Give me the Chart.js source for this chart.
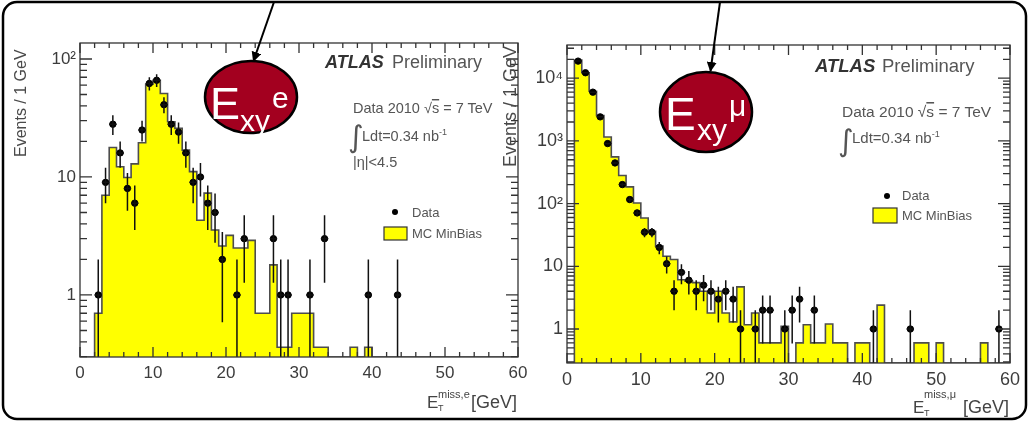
<!DOCTYPE html>
<html>
<head>
<meta charset="utf-8">
<script src="https://cdn.jsdelivr.net/npm/chart.js@4.4.0/dist/chart.umd.min.js"></script>
<style>
  html, body { margin: 0; padding: 0; background: #fff; }
  #stage { position: relative; width: 1029px; height: 422px; overflow: hidden; }
  #stage canvas { position: absolute; left: 0; top: 0; }
  #stage svg { position: absolute; left: 0; top: 0; }
</style>
</head>
<body>
<div id="stage">
  <canvas id="electronChart" width="1029" height="422"></canvas>
  <canvas id="muonChart" width="1029" height="422"></canvas>
  <svg width="1029" height="422" viewBox="0 0 1029 422" font-family="Liberation Sans, Arial, sans-serif">
    <defs>
      <marker id="head" markerWidth="10" markerHeight="10" refX="9" refY="5" orient="auto" markerUnits="userSpaceOnUse">
        <path d="M0,0 L10,5 L0,10 z" fill="#000"/>
      </marker>
    </defs>
    <!-- slide frame -->
    <rect x="3" y="2" width="1023" height="417" rx="14" ry="14" fill="none" stroke="#000" stroke-width="2.5"/>

    <!-- y axis titles -->
    <text transform="translate(26,157) rotate(-90)" font-size="16" fill="#4a4a4a">Events / 1 GeV</text>
    <text transform="translate(516,167) rotate(-90)" font-size="18" fill="#4a4a4a">Events / 1 GeV</text>

    <!-- electron panel labels -->
    <text x="325" y="68" font-size="18" font-weight="bold" font-style="italic" fill="#333">ATLAS</text>
    <text x="392" y="68" font-size="18" fill="#555">Preliminary</text>
    <text x="353" y="113" font-size="14.5" fill="#555">Data 2010  √<tspan text-decoration="overline">s</tspan> = 7 TeV</text>
    <text x="348" y="147" font-size="30" fill="#555" font-family="DejaVu Sans">∫</text>
    <text x="362" y="141" font-size="14.5" fill="#555">Ldt=0.34 nb<tspan font-size="9" dy="-6">-1</tspan></text>
    <text x="353" y="167" font-size="14.5" fill="#555">|η|&lt;4.5</text>
    <circle cx="395" cy="212" r="3" fill="#000"/>
    <text x="412" y="217" font-size="13" fill="#555">Data</text>
    <rect x="384" y="227" width="23" height="13" fill="#ffff00" stroke="#333" stroke-width="1.2"/>
    <text x="412" y="238" font-size="13" fill="#555">MC MinBias</text>
    <text x="427" y="408" font-size="17" fill="#444">E</text>
    <text x="438" y="398" font-size="11" fill="#444">miss,e</text>
    <text x="438" y="411" font-size="9" fill="#444">T</text>
    <text x="471" y="408" font-size="18" fill="#444">[GeV]</text>

    <!-- muon panel labels -->
    <text x="815" y="72" font-size="18.5" font-weight="bold" font-style="italic" fill="#333">ATLAS</text>
    <text x="882" y="72" font-size="18.5" fill="#555">Preliminary</text>
    <text x="842" y="117" font-size="15.5" fill="#555">Data 2010  √<tspan text-decoration="overline">s</tspan> = 7 TeV</text>
    <text x="838" y="151" font-size="30" fill="#555" font-family="DejaVu Sans">∫</text>
    <text x="852" y="143" font-size="15" fill="#555">Ldt=0.34 nb<tspan font-size="9" dy="-6">-1</tspan></text>
    <circle cx="887" cy="196" r="3" fill="#000"/>
    <text x="902" y="200" font-size="13" fill="#555">Data</text>
    <rect x="873" y="208" width="24" height="15" fill="#ffff00" stroke="#333" stroke-width="1.2"/>
    <text x="902" y="220" font-size="13" fill="#555">MC MinBias</text>
    <text x="913" y="413" font-size="17" fill="#444">E</text>
    <text x="924" y="398" font-size="11" fill="#444">miss,μ</text>
    <text x="924" y="416" font-size="9" fill="#444">T</text>
    <text x="963" y="413" font-size="18" fill="#444">[GeV]</text>

    <!-- callouts -->
    <line x1="274" y1="2" x2="253.5" y2="61" stroke="#000" stroke-width="2" marker-end="url(#head)"/>
    <line x1="720" y1="2" x2="710.5" y2="71" stroke="#000" stroke-width="2" marker-end="url(#head)"/>
    <ellipse cx="251" cy="97" rx="46" ry="36" fill="#a3001f" stroke="#000" stroke-width="2.5"/>
    <ellipse cx="706" cy="112" rx="46" ry="40" fill="#a3001f" stroke="#000" stroke-width="2.5"/>
    <text x="210" y="119" font-size="45" fill="#fff">E</text>
    <text x="240" y="131" font-size="30" fill="#fff">xy</text>
    <text x="272" y="108" font-size="30" fill="#fff">e</text>
    <text x="665" y="130" font-size="46" fill="#fff">E</text>
    <text x="697" y="140" font-size="30" fill="#fff">xy</text>
    <text x="729" y="116" font-size="30" fill="#fff">μ</text>
  </svg>
</div>

<script>
// Missing transverse energy spectra in 1 GeV bins, 0-60 GeV
const binWidthGeV = 1;
const energyBinsGeV = [
  0, 1, 2, 3, 4, 5, 6, 7, 8, 9,
  10, 11, 12, 13, 14, 15, 16, 17, 18, 19,
  20, 21, 22, 23, 24, 25, 26, 27, 28, 29,
  30, 31, 32, 33, 34, 35, 36, 37, 38, 39,
  40, 41, 42, 43, 44, 45, 46, 47, 48, 49,
  50, 51, 52, 53, 54, 55, 56, 57, 58, 59
];
const energyTickValues = [0, 10, 20, 30, 40, 50, 60];

// Electron channel
const mcElectron = [
  0, 0, 0.7, 7.0, 17.8, 12.2, 9.9, 12.9, 19.5, 61,
  66, 51, 29.4, 25.8, 16.9, 11.1, 4.3, 7.3, 3.55, 2.6,
  3.2, 2.5, 2.5, 2.9, 0.7, 0.7, 1.8, 0.36, 0.36, 0.7,
  0.7, 0.7, 0.36, 0.36, 0, 0, 0, 0.36, 0, 0.36,
  0, 0, 0, 0, 0, 0, 0, 0, 0, 0,
  0, 0, 0, 0, 0, 0, 0, 0, 0, 0
];
const dataElectron = [
  null, null, 1, 9, 28, 16, 8, 6, 25, 62,
  66, 41, 28, 24, 16, 9, 10, 6, 5, 2,
  null, 1, 3, null, null, null, 3, 1, 1, null,
  null, 1, null, 3, null, null, null, null, null, 1,
  null, null, null, 1, null, null, null, null, null, null,
  null, null, null, null, null, null, null, null, null, null
];
const electronDecades = [1, 10, 100];
const electronDecadeLabels = ['1', '10', '10²'];

// Muon channel
const mcMuon = [
  0, 19500, 12200, 6200, 2540, 1150, 555, 280, 185, 102,
  59, 36, 21, 14.5, 12.8, 6.1, 5.8, 5.5, 4.0, 1.8,
  4.0, 1.8, 1.3, 4.7, 1.17, 1.8, 0.6, 0.6, 0.6, 1.1,
  0, 0.6, 1.17, 0.6, 0.6, 1.2, 0.6, 0.6, 0, 0.6,
  0.6, 0, 2.4, 0, 0, 0, 0, 0.6, 0.6, 0,
  0.6, 0, 0, 0, 0, 0, 0.6, 0, 0, 0
];
const dataMuon = [
  null, 18700, 12200, 5980, 2415, 906, 445, 201, 116, 71,
  35, 35, 20, 11, 4, 8, 6, 4, 5, 4,
  3, 4, 3, 1, null, 1, 2, 2, null, 1,
  2, 3, null, 2, null, null, null, null, null, null,
  null, 1, null, null, null, null, 1, null, null, null,
  null, null, null, null, null, null, null, null, 1, null
];
const muonDecades = [1, 10, 100, 1000, 10000];
const muonDecadeLabels = ['1', '10', '10²', '10³', '10⁴'];

// Step outline of a histogram; empty bins sit on the axis floor
function histogramPoints(contents, floor) {
  const pts = energyBinsGeV.map((e, i) => ({ x: e, y: contents[i] > 0 ? contents[i] : floor }));
  pts.push({ x: energyBinsGeV[energyBinsGeV.length - 1] + binWidthGeV, y: floor });
  return pts;
}

// Data markers at bin centres with Poisson errors
function dataPoints(counts) {
  const pts = [];
  energyBinsGeV.forEach((e, i) => {
    const n = counts[i];
    if (n != null) pts.push({ x: e + binWidthGeV / 2, y: n, err: Math.sqrt(n) });
  });
  return pts;
}

const errorBars = {
  id: 'errorBars',
  afterDatasetsDraw(chart) {
    const { ctx, chartArea: a, scales: { x, y } } = chart;
    ctx.save();
    ctx.beginPath();
    ctx.rect(a.left, a.top, a.right - a.left, a.bottom - a.top);
    ctx.clip();
    ctx.strokeStyle = '#111';
    ctx.lineWidth = 1.5;
    chart.data.datasets.forEach(ds => {
      if (!ds.errorBars) return;
      ds.data.forEach(p => {
        const px = x.getPixelForValue(p.x);
        const py = y.getPixelForValue(p.y);
        const top = y.getPixelForValue(p.y + p.err);
        const low = p.y - p.err;
        const bottom = low > y.min ? y.getPixelForValue(low) : a.bottom;
        ctx.beginPath();
        ctx.moveTo(px, top); ctx.lineTo(px, bottom);
        ctx.moveTo(x.getPixelForValue(p.x - binWidthGeV / 2), py);
        ctx.lineTo(x.getPixelForValue(p.x + binWidthGeV / 2), py);
        ctx.stroke();
      });
    });
    ctx.restore();
  }
};

// Frame with inward ticks on all four sides
const frameTicks = {
  id: 'frameTicks',
  afterDraw(chart) {
    const { ctx, chartArea: a, scales: { x, y } } = chart;
    ctx.save();
    ctx.strokeStyle = '#333';
    ctx.lineWidth = 1.3;
    ctx.strokeRect(a.left, a.top, a.right - a.left, a.bottom - a.top);
    ctx.beginPath();
    for (let v = x.min; v <= x.max + 1e-9; v += 2) {
      const px = x.getPixelForValue(v);
      const len = v % 10 === 0 ? 10 : 5;
      ctx.moveTo(px, a.bottom); ctx.lineTo(px, a.bottom - len);
      ctx.moveTo(px, a.top); ctx.lineTo(px, a.top + len);
    }
    const e0 = Math.floor(Math.log10(y.min));
    const e1 = Math.ceil(Math.log10(y.max));
    for (let e = e0; e <= e1; e++) {
      for (let m = 1; m <= 9; m++) {
        const v = m * Math.pow(10, e);
        if (v < y.min || v > y.max) continue;
        const py = y.getPixelForValue(v);
        const len = m === 1 ? 12 : 7;
        ctx.moveTo(a.left, py); ctx.lineTo(a.left + len, py);
        ctx.moveTo(a.right, py); ctx.lineTo(a.right - len, py);
      }
    }
    ctx.stroke();
    ctx.restore();
  }
};

function makePanel(canvasId, mc, data, yMin, yMax, area, decades, decadeLabels, fontSize) {
  const yWidth = 30, xHeight = 25, W = 1029, H = 422;
  return new Chart(document.getElementById(canvasId), {
    type: 'line',
    data: {
      datasets: [
        {
          label: 'Data',
          data: dataPoints(data),
          showLine: false,
          errorBars: true,
          pointRadius: 3.2,
          pointHoverRadius: 3.2,
          pointBackgroundColor: '#000',
          pointBorderColor: '#000',
          order: 1
        },
        {
          label: 'MC MinBias',
          data: histogramPoints(mc, yMin),
          stepped: true,
          fill: 'start',
          backgroundColor: '#ffff00',
          borderColor: '#4d4d4d',
          borderWidth: 1.6,
          pointRadius: 0,
          order: 2
        }
      ]
    },
    options: {
      responsive: false,
      animation: false,
      events: [],
      layout: {
        padding: {
          left: area.left - yWidth,
          right: W - area.right,
          top: area.top,
          bottom: H - area.bottom - xHeight
        }
      },
      plugins: { legend: { display: false }, tooltip: { enabled: false } },
      scales: {
        x: {
          type: 'linear',
          min: 0,
          max: 60,
          afterFit(s) { s.height = xHeight; },
          afterBuildTicks(s) { s.ticks = energyTickValues.map(v => ({ value: v })); },
          grid: { display: false, drawTicks: false },
          border: { display: false },
          ticks: {
            padding: 6,
            color: '#3c3c3c',
            font: { family: 'Liberation Sans', size: fontSize },
            maxRotation: 0,
            callback: v => String(v)
          }
        },
        y: {
          type: 'logarithmic',
          min: yMin,
          max: yMax,
          afterFit(s) { s.width = yWidth; },
          afterBuildTicks(s) { s.ticks = decades.map(v => ({ value: v })); },
          grid: { display: false, drawTicks: false },
          border: { display: false },
          ticks: {
            padding: 4,
            color: '#3c3c3c',
            font: { family: 'Liberation Sans', size: fontSize },
            callback: (v) => decadeLabels[decades.indexOf(v)]
          }
        }
      }
    },
    plugins: [errorBars, frameTicks]
  });
}

makePanel('electronChart', mcElectron, dataElectron, 0.298, 136.6,
  { left: 80, right: 518, top: 43, bottom: 357 }, electronDecades, electronDecadeLabels, 17);
makePanel('muonChart', mcMuon, dataMuon, 0.287, 33800,
  { left: 567, right: 1010, top: 45, bottom: 363 }, muonDecades, muonDecadeLabels, 18);
</script>
</body>
</html>
